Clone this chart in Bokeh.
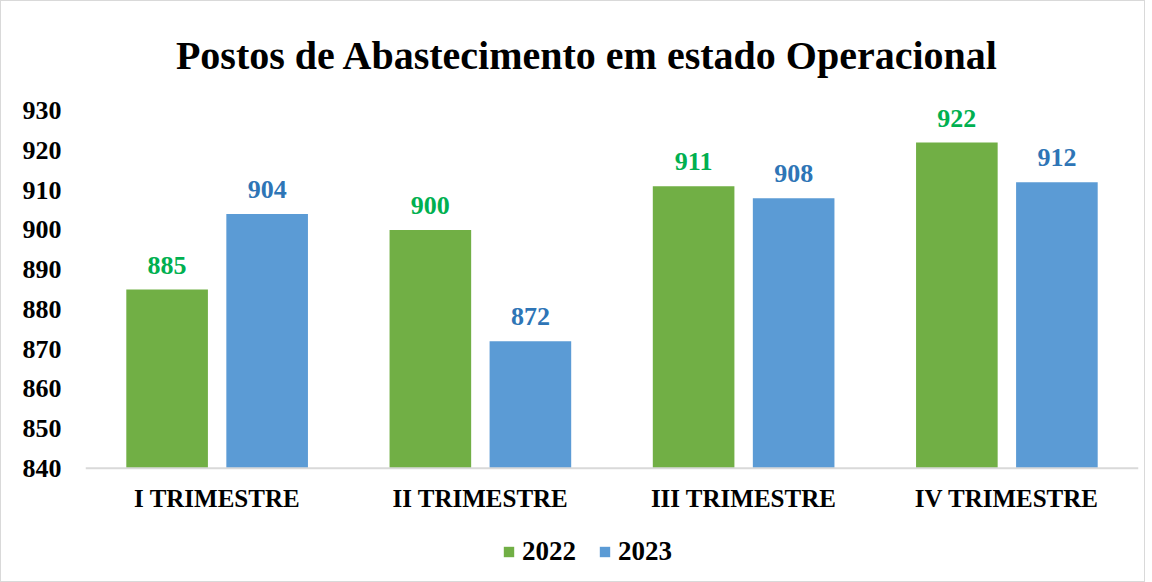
from bokeh.plotting import figure
from bokeh.models import (ColumnDataSource, Range1d, LabelSet, Label, Legend, LegendItem,
                          FixedTicker, Span)
from bokeh.transform import dodge
from bokeh.embed import file_html
from bokeh.resources import INLINE

title_text = "Postos de Abastecimento em estado Operacional"
categories = ["I TRIMESTRE", "II TRIMESTRE", "III TRIMESTRE", "IV TRIMESTRE"]
v2022 = [885, 900, 911, 922]
v2023 = [904, 872, 908, 912]
series_names = ["2022", "2023"]
y_ticks = [840, 850, 860, 870, 880, 890, 900, 910, 920, 930]
baseline = 840

FONT = "Liberation Serif"
GREEN = "#71AF45"
BLUE = "#5B9BD5"

src = ColumnDataSource(dict(cat=categories, a=v2022, b=v2023, base=[baseline] * len(categories),
                            la=[str(v) for v in v2022], lb=[str(v) for v in v2023]))

p = figure(x_range=categories, y_range=Range1d(811.5, 957.5),
           frame_width=1053, frame_height=580,
           output_backend="svg", toolbar_location=None,
           min_border_left=84, min_border_right=6, min_border_top=0, min_border_bottom=0)
p.styles = {"border": "1px solid #D9D9D9"}
p.outline_line_color = None
p.xgrid.grid_line_color = None
p.ygrid.grid_line_color = None
p.x_range.range_padding = 0.0
p.xaxis.visible = False

r1 = p.vbar(x=dodge("cat", -0.19, range=p.x_range), top="a", bottom=baseline, width=0.31,
            source=src, fill_color=GREEN, line_color=None)
r2 = p.vbar(x=dodge("cat", 0.19, range=p.x_range), top="b", bottom=baseline, width=0.31,
            source=src, fill_color=BLUE, line_color=None)

# x axis line at the baseline
p.add_layout(Span(location=baseline, dimension="width", line_color="#D9D9D9", line_width=2))

# category labels
p.add_layout(LabelSet(x="cat", y="base", text="cat", source=src, text_align="center",
                      text_baseline="middle", y_offset=-30, text_font=FONT,
                      text_font_size="25px", text_font_style="bold", text_color="#000000"))

for col, lab, off, color in [("a", "la", -0.19, "#00B050"), ("b", "lb", 0.19, "#2E75B6")]:
    p.add_layout(LabelSet(x=dodge("cat", off, range=p.x_range), y=col, text=lab, source=src,
                          text_align="center", text_baseline="bottom", y_offset=16,
                          text_font=FONT, text_font_size="26px", text_font_style="bold",
                          text_color=color))

p.add_layout(Label(x=502, y=526, x_units="screen", y_units="screen", text=title_text,
                   text_align="center", text_baseline="middle", text_font=FONT,
                   text_font_size="40px", text_font_style="bold", text_color="#000000"))

p.yaxis.ticker = FixedTicker(ticks=y_ticks)
p.yaxis.axis_line_color = None
p.yaxis.major_tick_line_color = None
p.yaxis.minor_tick_line_color = None
p.yaxis.major_label_standoff = 18
p.yaxis.major_label_text_font = FONT
p.yaxis.major_label_text_font_size = "26px"
p.yaxis.major_label_text_font_style = "bold"
p.yaxis.major_label_text_color = "#000000"

legend = Legend(items=[LegendItem(label=series_names[0], renderers=[r1]),
                       LegendItem(label=series_names[1], renderers=[r2])],
                orientation="horizontal", location=(417, 14),
                label_text_font=FONT, label_text_font_size="27px", label_text_font_style="bold",
                label_text_color="#000000", glyph_width=13, glyph_height=13,
                label_standoff=7, spacing=22, border_line_color=None,
                background_fill_alpha=0, padding=4, margin=0)
p.add_layout(legend, "center")

open("out.html", "w").write(file_html(p, INLINE))
